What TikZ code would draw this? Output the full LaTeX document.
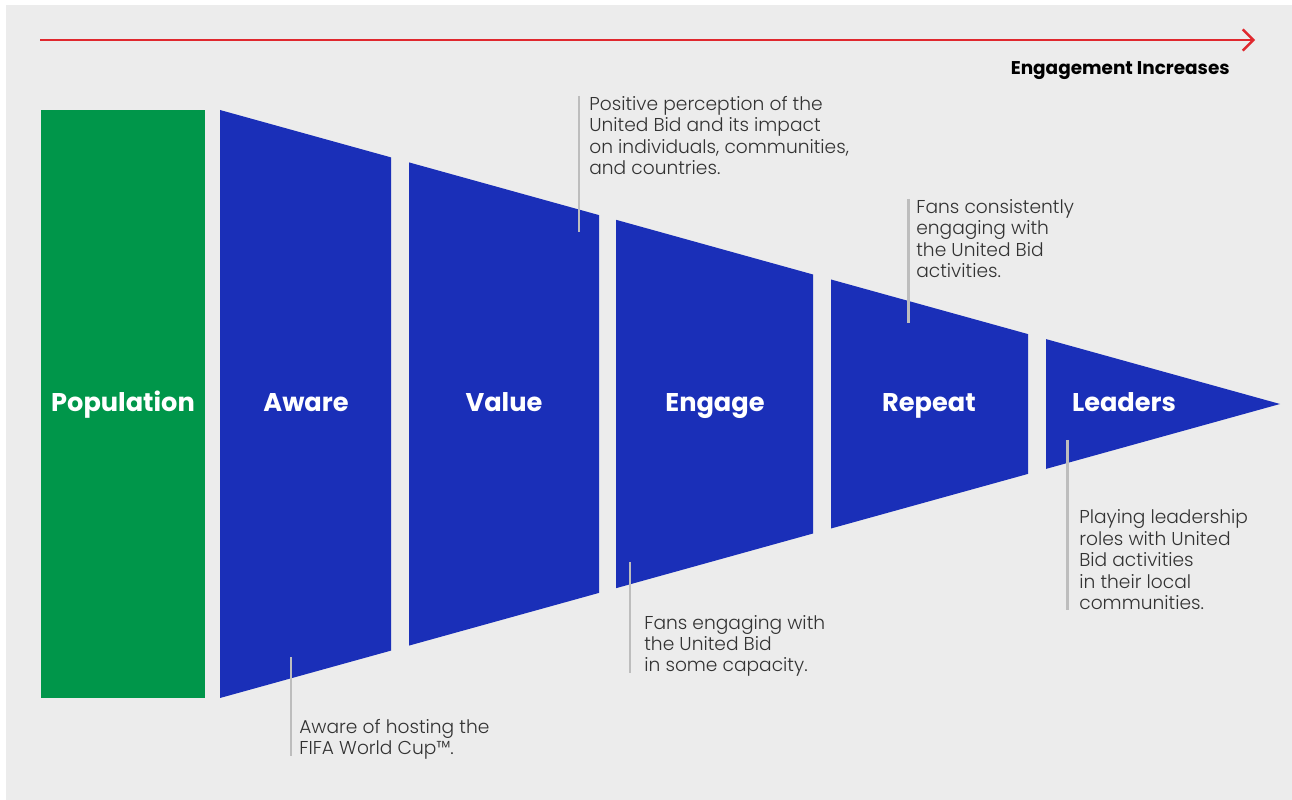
\documentclass[tikz,border=0pt]{standalone}
\usepackage{fontspec}
\setmainfont{Poppins}
\newfontfamily\lightfont{Poppins}[UprightFont=* Light]
\usetikzlibrary{arrows.meta,positioning}

\definecolor{bgGrey}{HTML}{ECECEC}
\definecolor{popGreen}{HTML}{00964A}
\definecolor{coneBlue}{HTML}{1A2FB8}
\definecolor{arrowRed}{HTML}{E0282E}
\definecolor{leaderGrey}{HTML}{BDBDBD}
\definecolor{noteText}{HTML}{333333}

\tikzset{
  stage/.style={text=white, font=\bfseries\fontsize{14.6}{18}\selectfont, inner sep=0pt, anchor=base},
  note/.style={text=noteText, font=\lightfont\fontsize{10.6}{12.2}\selectfont, align=left, inner sep=0pt},
  leader/.style={draw=leaderGrey, line width=1.7pt},
}

\begin{document}
\begin{tikzpicture}[x=0.02cm, y=-0.02cm]
    % Canvas with grey panel
    \useasboundingbox (0,0) rectangle (1292,800);
    \fill[white] (0,0) rectangle (1292,800);
    \fill[bgGrey] (6,5) rectangle (1292,800);

    % Engagement arrow along the top
    \coordinate (arrowstart) at (40,40);
    \coordinate (arrowend) at (1255,40);
    \draw[arrowRed, line width=1.4pt, -{Straight Barb[length=6pt,width=12pt]}] (arrowstart) -- (arrowend);
    \node[font=\bfseries\fontsize{10.5}{12}\selectfont, anchor=base east, inner sep=0pt] (increase) at (1230,75) {Engagement Increases};

    % Population block
    \fill[popGreen] (41,110) rectangle (205,698);
    \node[stage] (population) at (123,412) {Population};

    % Cone cut into slices
    \fill[coneBlue] (220,110) -- (391,157.4) -- (391,650.6) -- (220,698) -- cycle;
    \fill[coneBlue] (409,162.4) -- (599,215.1) -- (599,592.9) -- (409,645.6) -- cycle;
    \fill[coneBlue] (616,219.8) -- (813,274.5) -- (813,533.5) -- (616,588.2) -- cycle;
    \fill[coneBlue] (831,279.5) -- (1028,334.1) -- (1028,473.9) -- (831,528.5) -- cycle;
    \fill[coneBlue] (1046,339.1) -- (1280,404) -- (1046,468.9) -- cycle;

    \node[stage] (aware) at (306,412) {Aware};
    \node[stage] (value) at (504,412) {Value};
    \node[stage] (engage) at (715,412) {Engage};
    \node[stage] (repeat) at (929,412) {Repeat};
    \node[stage] (leaders) at (1124,412) {Leaders};

    % Leader lines and notes
    \coordinate (awaretop) at (291,657);
    \coordinate (awarebot) at (291,756);
    \draw[leader] (awaretop) -- (awarebot);
    \node[note, anchor=south west] (awarenote) at ([xshift=0.16cm, yshift=-2.3pt]awarebot)
        {Aware of hosting the\\FIFA World Cup™.};

    \coordinate (valuetop) at (579,96);
    \coordinate (valuebot) at (579,232);
    \draw[leader] (valuetop) -- (valuebot);
    \node[note, anchor=north west] (valuenote) at ([xshift=0.2cm]valuetop)
        {Positive perception of the\\United Bid and its impact\\on individuals, communities,\\and countries.};

    \coordinate (engagetop) at (630,562);
    \coordinate (engagebot) at (630,673);
    \draw[leader] (engagetop) -- (engagebot);
    \node[note, anchor=south west] (engagenote) at ([xshift=0.28cm, yshift=-2.3pt]engagebot)
        {Fans engaging with\\the United Bid\\in some capacity.};

    \coordinate (repeattop) at (908,199);
    \coordinate (repeatbot) at (908,323);
    \draw[leader] (repeattop) -- (repeatbot);
    \node[note, anchor=north west] (repeatnote) at ([xshift=0.16cm]repeattop)
        {Fans consistently\\engaging with\\the United Bid\\activities.};

    \coordinate (leaderstop) at (1067,440);
    \coordinate (leadersbot) at (1067,610);
    \draw[leader] (leaderstop) -- (leadersbot);
    \node[note, anchor=south west] (leadersnote) at ([xshift=0.24cm]leadersbot)
        {Playing leadership\\roles with United\\Bid activities\\in their local\\communities.};
\end{tikzpicture}
\end{document}
